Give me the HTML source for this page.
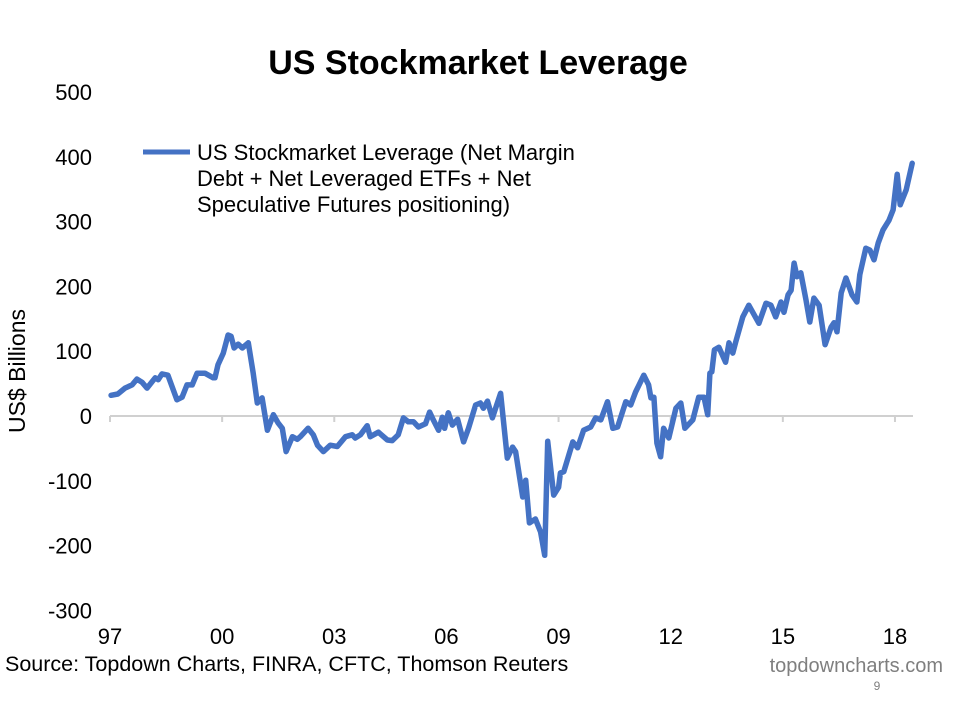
<!DOCTYPE html>
<html><head><meta charset="utf-8"><style>
body{margin:0;background:#fff;width:953px;height:710px;overflow:hidden;font-family:"Liberation Sans",Arial,sans-serif}
</style></head><body>
<svg width="953" height="710" font-family="Liberation Sans, Arial, sans-serif">
<text x="478" y="74" text-anchor="middle" font-size="34" font-weight="bold">US Stockmarket Leverage</text>
<g id="yaxis"></g>
<g id="xaxis"></g>
<text transform="translate(25,371) rotate(-90)" text-anchor="middle" font-size="23">US$ Billions</text>
<g>
<line x1="143" y1="152" x2="190" y2="152" stroke="#4472C4" stroke-width="5"/>
<text x="197" y="160" font-size="22"><tspan x="197">US Stockmarket Leverage (Net Margin</tspan><tspan x="197" dy="26">Debt + Net Leveraged ETFs + Net</tspan><tspan x="197" dy="26">Speculative Futures positioning)</tspan></text>
</g>
<path id="series" fill="none" stroke="#4472C4" stroke-width="5.5" stroke-linejoin="round" stroke-linecap="round"/>
<text x="5" y="671" font-size="21.5">Source: Topdown Charts, FINRA, CFTC, Thomson Reuters</text>
<text x="943" y="672" text-anchor="end" font-size="20" fill="#7f7f7f">topdowncharts.com</text>
<text x="877" y="690" text-anchor="middle" font-size="12" fill="#7f7f7f">9</text>
</svg>
<script>
const yTicks=[500,400,300,200,100,0,-100,-200,-300];
const xTickYears=[0,3,6,9,12,15,18,21];
const xTickLabels=["97","00","03","06","09","12","15","18"];
const yearsSince1997=[.03,.21,.40,.59,.72,.86,.99,1.21,1.29,1.39,1.55,1.79,1.93,2.06,2.20,2.33,2.54,2.76,2.81,2.89,3.03,3.16,3.24,3.32,3.43,3.54,3.70,3.83,3.94,4.07,4.21,4.37,4.50,4.61,4.71,4.88,5.01,5.09,5.30,5.44,5.55,5.71,5.89,6.08,6.30,6.48,6.56,6.70,6.88,6.96,7.18,7.42,7.55,7.71,7.85,7.98,8.12,8.25,8.44,8.55,8.65,8.79,8.89,8.95,9.05,9.16,9.30,9.46,9.59,9.78,9.91,9.99,10.10,10.23,10.45,10.63,10.77,10.85,11.04,11.12,11.22,11.38,11.52,11.63,11.71,11.87,12.00,12.05,12.14,12.38,12.51,12.67,12.86,12.99,13.13,13.31,13.45,13.58,13.80,13.93,14.06,14.28,14.41,14.47,14.55,14.63,14.73,14.81,14.95,15.14,15.27,15.38,15.59,15.75,15.89,15.99,16.05,16.10,16.17,16.29,16.47,16.56,16.66,16.74,16.93,17.09,17.36,17.55,17.68,17.81,17.95,18.03,18.14,18.22,18.30,18.38,18.48,18.62,18.72,18.83,18.97,19.13,19.29,19.37,19.45,19.56,19.69,19.85,19.98,20.06,20.22,20.33,20.44,20.55,20.68,20.84,20.95,21.06,21.14,21.30,21.46];
const leverage=[32,34,43,48,57,52,43,59,56,65,63,25,29,48,48,66,66,59,59,79,97,125,123,105,111,105,113,66,20,28,-22,2,-11,-19,-55,-32,-36,-32,-19,-29,-45,-55,-45,-47,-32,-29,-34,-29,-15,-32,-25,-37,-38,-29,-3,-9,-9,-17,-12,6,-6,-22,-2,-19,5,-14,-5,-40,-19,17,20,12,23,-3,35,-65,-48,-55,-125,-99,-165,-159,-179,-215,-39,-122,-110,-88,-86,-40,-49,-22,-17,-3,-6,22,-19,-17,22,17,37,63,48,28,29,-42,-63,-19,-34,12,20,-19,-6,29,29,2,66,68,102,106,83,113,97,114,153,171,143,174,171,153,176,160,187,194,236,215,221,179,145,182,171,110,137,144,130,190,213,187,176,218,259,256,241,267,287,302,318,373,326,349,390];
const NS='http://www.w3.org/2000/svg';
function xs(t){return 110+t*37.38;}
function ys(v){return 416-v*0.648;}
const ya=document.getElementById('yaxis');
yTicks.forEach(v=>{
 const t=document.createElementNS(NS,'text');
 
 
 t.setAttribute('x',92);t.setAttribute('y',ys(v)+8);t.setAttribute('text-anchor','end');t.setAttribute('font-size','22');
 t.textContent=v;ya.appendChild(t);
});
const xa=document.getElementById('xaxis');
const base=document.createElementNS(NS,'line');


base.setAttribute('x1',110);base.setAttribute('x2',913);base.setAttribute('y1',ys(0));base.setAttribute('y2',ys(0));
base.setAttribute('stroke','#d0d0d0');base.setAttribute('stroke-width','2');xa.appendChild(base);
xTickYears.forEach((t,i)=>{
 const l=document.createElementNS(NS,'line');
 
 
 l.setAttribute('x1',xs(t));l.setAttribute('x2',xs(t));l.setAttribute('y1',ys(0));l.setAttribute('y2',ys(0)+6);
 l.setAttribute('stroke','#d0d0d0');l.setAttribute('stroke-width','2');xa.appendChild(l);
 const tx=document.createElementNS(NS,'text');
 
 
 tx.setAttribute('x',xs(t));tx.setAttribute('y',644);tx.setAttribute('text-anchor','middle');tx.setAttribute('font-size','22');
 tx.textContent=xTickLabels[i];xa.appendChild(tx);
});
let d='';
const n=Math.min(yearsSince1997.length,leverage.length);
for(let i=0;i<n;i++){d+=(i?'L':'M')+xs(yearsSince1997[i]).toFixed(1)+','+ys(leverage[i]).toFixed(1);}
document.getElementById('series').setAttribute('d',d);
</script>
</body></html>
